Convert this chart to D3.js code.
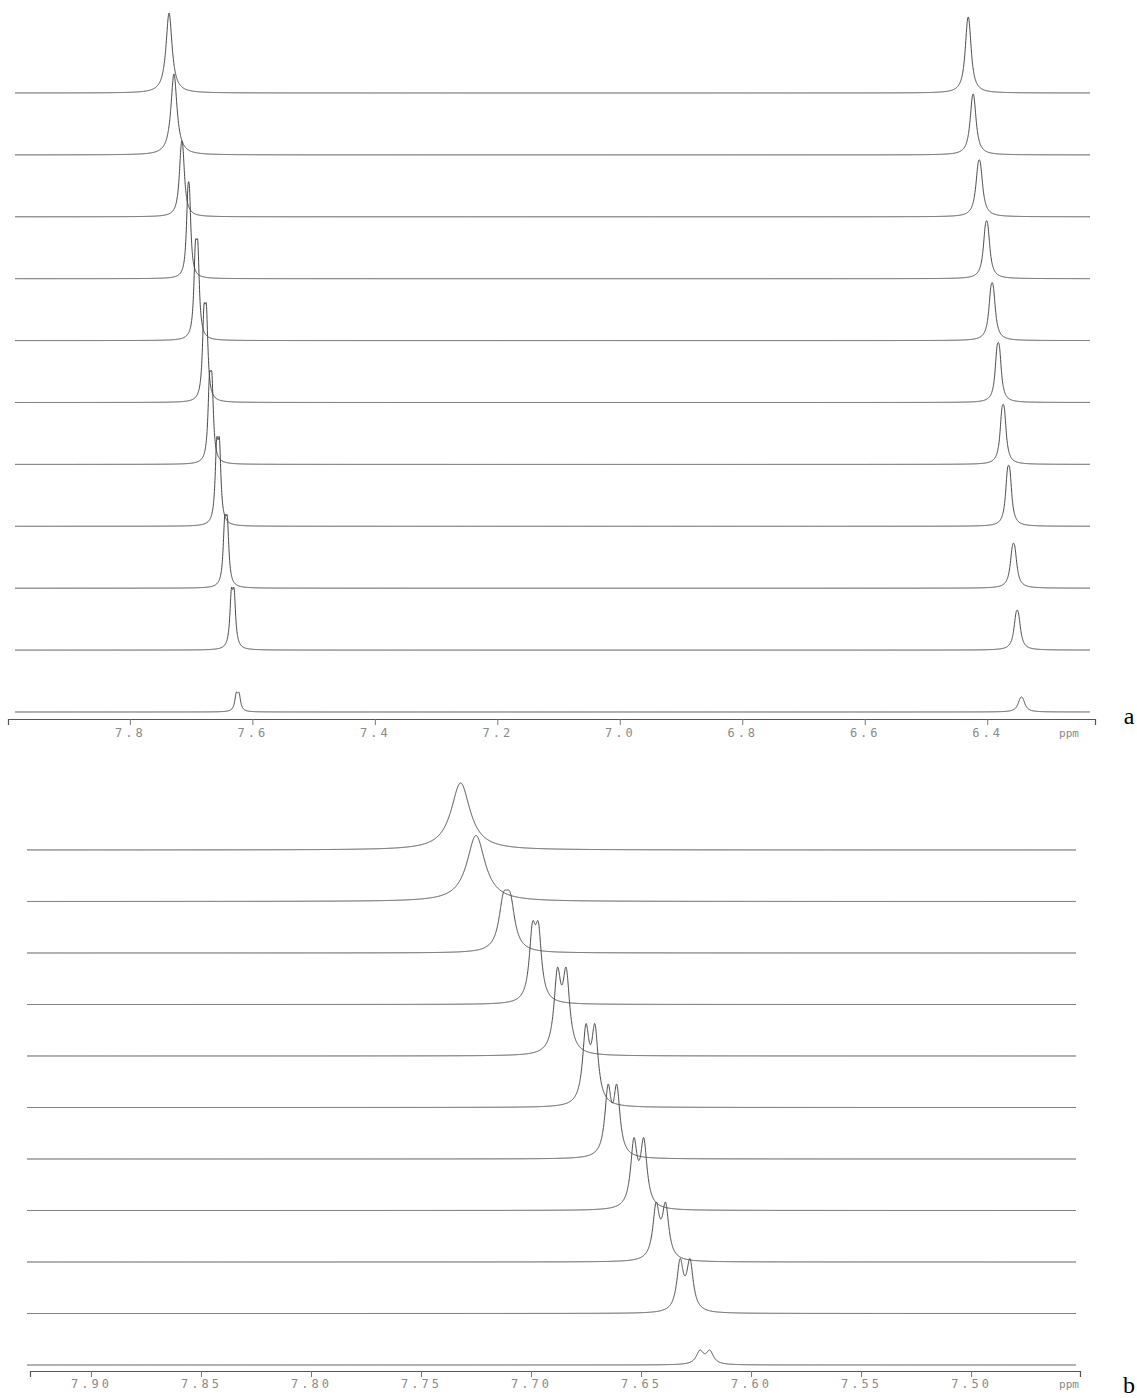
<!DOCTYPE html>
<html><head><meta charset="utf-8">
<script src="https://cdn.jsdelivr.net/npm/d3@7"></script>
<style>body{margin:0;background:#fff} svg{display:block}</style>
</head><body>
<svg id="chart" width="1137" height="1398"></svg>
<script>
// ---------------- data ----------------
const spectra = ["1","2","3","4","5","6","7","8","9","10","ref"];

// Panel a - signal near 7.7 ppm
const aShift1  = [7.736, 7.728, 7.715, 7.704, 7.691, 7.677, 7.668, 7.656, 7.643, 7.632, 7.624];
const aHeight1 = [80, 81, 76, 97, 102, 100, 94, 90, 74, 63, 20];
const aWidth1  = [0.012, 0.012, 0.008, 0.006, 0.006, 0.006, 0.006, 0.006, 0.006, 0.006, 0.006];
const aJ1      = [0, 0, 0.0028, 0.0027, 0.0040, 0.0041, 0.0040, 0.0045, 0.0043, 0.0045, 0.0045];
// Panel a - signal near 6.4 ppm
const aShift2  = [6.431, 6.423, 6.413, 6.401, 6.392, 6.382, 6.374, 6.365, 6.357, 6.351, 6.344];
const aHeight2 = [76, 61, 57, 58, 58, 60, 60, 61, 45, 40, 15];
const aWidth2  = [0.010, 0.010, 0.010, 0.009, 0.009, 0.008, 0.008, 0.008, 0.009, 0.009, 0.010];
const aJ2      = [0.003, 0.003, 0.004, 0.004, 0.004, 0.004, 0.004, 0.004, 0.004, 0.004, 0.004];

// Panel b - expansion of the 7.7 ppm signal
const bShift  = [7.732, 7.725, 7.711, 7.698, 7.686, 7.673, 7.663, 7.651, 7.641, 7.630, 7.621];
const bHeight = [67, 66, 63, 84, 89, 84, 75, 73, 60, 55, 15];
const bWidth  = [0.0105, 0.0100, 0.0050, 0.0035, 0.0038, 0.0036, 0.0035, 0.0036, 0.0036, 0.0036, 0.0040];
const bJ      = [0, 0, 0.0031, 0.0027, 0.0040, 0.0041, 0.0040, 0.0045, 0.0043, 0.0045, 0.0045];

const aTicks = [7.8, 7.6, 7.4, 7.2, 7.0, 6.8, 6.6, 6.4];
const aTickLabels = ["7.8", "7.6", "7.4", "7.2", "7.0", "6.8", "6.6", "6.4"];
const aMinorTicks = [7.9, 7.7, 7.5, 7.3, 7.1, 6.9, 6.7, 6.5, 6.3];
const bTicks = [7.90, 7.85, 7.80, 7.75, 7.70, 7.65, 7.60, 7.55, 7.50];
const bTickLabels = ["7.90", "7.85", "7.80", "7.75", "7.70", "7.65", "7.60", "7.55", "7.50"];
const bMinorTicks = d3.range(7.92, 7.449, -0.01).map(v => +v.toFixed(2));
const unitLabel = "ppm";

// ---------------- drawing ----------------
const svg = d3.select("#chart");
svg.append("rect").attr("width", 1137).attr("height", 1398).attr("fill", "#fff");

function lineShape(center, fwhm, j, height) {
  const comps = j > 0 ? [center - j / 2, center + j / 2] : [center];
  const raw = p => comps.reduce((s, c) => s + 1 / (1 + Math.pow((p - c) / (fwhm / 2), 2)), 0);
  let m = 0;
  for (let k = -400; k <= 400; k++) m = Math.max(m, raw(center + k * (j + fwhm) / 400));
  return p => height * raw(p) / m;
}

function drawPanel(cfg) {
  const x = d3.scaleLinear().domain(cfg.domain).range(cfg.xRange);
  const row = d3.scalePoint().domain(spectra).range(cfg.rowRange);
  const inten = d3.scaleLinear().domain([0, 100]).range([0, 100]);
  const g = svg.append("g");
  const n = 6000;
  const d0 = x.invert(cfg.lineRange[0]), d1 = x.invert(cfg.lineRange[1]);
  spectra.forEach((lab, i) => {
    const sigs = cfg.signals.map(s => lineShape(s.shift[i], s.width[i], s.j[i], s.height[i]));
    const pts = d3.range(n + 1).map(k => {
      const p = d0 + (d1 - d0) * k / n;
      return [p, sigs.reduce((a, f) => a + f(p), 0)];
    });
    const line = d3.line().x(d => x(d[0])).y(d => row(lab) - inten(d[1]));
    g.append("path").attr("d", line(pts))
      .attr("fill", "none").attr("stroke", "#404040").attr("stroke-width", 0.95);
  });

  // axis
  const ax = svg.append("g").attr("transform", `translate(0,${cfg.axisY})`);
  ax.call(d3.axisBottom(x).tickValues(cfg.minor).tickSize(3).tickFormat(""));
  ax.call(d3.axisBottom(x).tickValues(cfg.ticks).tickSize(6)
        .tickFormat((d, i) => cfg.tickLabels[i]));
  ax.select(".domain").attr("stroke", "#555").attr("stroke-width", 1.2);
  ax.selectAll(".tick line").attr("stroke", "#777");
  ax.selectAll(".tick text")
    .attr("y", cfg.labelDy)
    .attr("fill", "#8a8a8a")
    .style("font-family", "DejaVu Sans Mono, monospace")
    .style("font-size", "12px")
    .style("letter-spacing", "3px");
  ax.append("text").attr("x", cfg.unitX).attr("y", cfg.labelDy + 9)
    .attr("fill", "#8a8a8a").attr("text-anchor", "middle")
    .style("font-family", "DejaVu Sans Mono, monospace")
    .style("font-size", "11px")
    .text(unitLabel);

  svg.append("text").attr("x", 1129).attr("y", cfg.panelLabelY)
    .attr("text-anchor", "middle")
    .style("font-family", "Liberation Serif, Times New Roman, serif")
    .style("font-size", "24px").attr("fill", "#000")
    .text(cfg.panelLabel);
}

drawPanel({
  domain: [7.999, 6.224], xRange: [8, 1095], lineRange: [15, 1090], rowRange: [93, 712],
  axisY: 719, labelDy: 9, unitX: 1069, panelLabelY: 724, panelLabel: "a",
  ticks: aTicks, tickLabels: aTickLabels, minor: aMinorTicks,
  signals: [
    { shift: aShift1, height: aHeight1, width: aWidth1, j: aJ1 },
    { shift: aShift2, height: aHeight2, width: aWidth2, j: aJ2 }
  ]
});

drawPanel({
  domain: [7.9277, 7.4505], xRange: [30, 1080], lineRange: [27, 1076], rowRange: [850, 1365],
  axisY: 1371, labelDy: 8, unitX: 1069, panelLabelY: 1393, panelLabel: "b",
  ticks: bTicks, tickLabels: bTickLabels, minor: bMinorTicks,
  signals: [
    { shift: bShift, height: bHeight, width: bWidth, j: bJ }
  ]
});
</script>
</body></html>
